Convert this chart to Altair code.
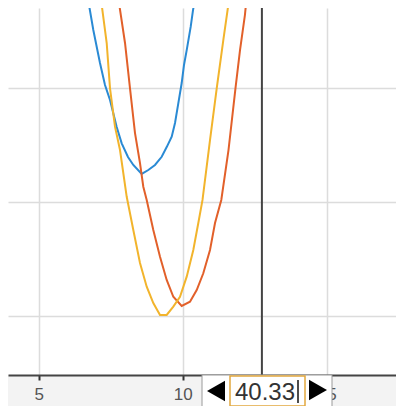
import altair as alt
import pandas as pd

# ---- data ----
blue_x = [6.694, 6.747, 6.896, 7.128, 7.302, 7.476, 7.708, 7.882, 8.10, 8.285, 8.576,
          8.806, 9.038, 9.271, 9.444, 9.618, 9.733, 9.847, 9.965, 10.045, 10.139, 10.278, 10.358, 10.46]
blue_y = [38.16, 37.28, 35.09, 32.19, 30.26, 28.95, 26.58, 25.15, 23.95, 23.25, 22.46,
          22.81, 23.25, 23.97, 24.82, 25.73, 26.93, 28.66, 30.44, 32.02, 33.33, 35.38, 36.84, 38.16]

red_x = [7.77, 7.799, 7.997, 8.170, 8.344, 8.517, 8.632, 8.750, 8.979, 9.212, 9.444, 9.674,
         9.965, 10.253, 10.486, 10.715, 10.948, 11.122, 11.34, 11.59, 11.833, 11.99, 12.16, 12.23]
red_y = [38.16, 37.28, 33.95, 29.97, 26.05, 23.42, 21.34, 20.18, 17.54, 15.20, 13.16, 11.69,
         10.88, 11.25, 12.28, 13.75, 15.79, 18.16, 20.18, 24.56, 30.0, 33.33, 36.4, 38.16]

yellow_x = [7.146, 7.188, 7.361, 7.476, 7.649, 7.823, 8.056, 8.285, 8.517, 8.750, 8.979, 9.212,
            9.444, 9.674, 9.906, 10.139, 10.368, 10.542, 10.688, 10.948, 11.181, 11.410, 11.583, 11.625]
yellow_y = [38.16, 37.28, 33.95, 29.97, 26.61, 24.56, 20.46, 17.54, 14.65, 12.57, 11.14, 10.09,
            10.09, 10.82, 11.69, 13.45, 15.79, 18.16, 20.18, 25.44, 29.97, 34.21, 37.28, 38.16]

series_names = ["blue", "red", "yellow"]
series_colors = ["#2a8ad4", "#e2602a", "#f2b42c"]

x_ticks = [5, 10, 15]
y_grid = [10, 20, 30]
x_domain = [3.934, 17.406]
y_domain = [4.825, 37.02]
cursor_x = [12.75]
widget_text = "40.33"

rows = []
for name, xs, ys in [("blue", blue_x, blue_y), ("red", red_x, red_y), ("yellow", yellow_x, yellow_y)]:
    for i, (xv, yv) in enumerate(zip(xs, ys)):
        rows.append({"series": name, "x": xv, "y": yv, "order": i})
df = pd.DataFrame(rows)

xscale = alt.Scale(domain=x_domain, nice=False, zero=False)
yscale = alt.Scale(domain=y_domain, nice=False, zero=False)

lines = alt.Chart(df).mark_line(strokeWidth=2, clip=True).encode(
    x=alt.X("x:Q", scale=xscale, title=None,
            axis=alt.Axis(values=x_ticks, grid=True, gridColor="#dcdcdc", gridWidth=1.5,
                          domainColor="#444444", domainWidth=2, tickColor="#333333",
                          tickWidth=2, tickSize=5, labelFontSize=17, labelColor="#555555",
                          labelFont="Liberation Sans", labelPadding=6, format="d")),
    y=alt.Y("y:Q", scale=yscale, title=None,
            axis=alt.Axis(values=y_grid, grid=True, gridColor="#dcdcdc", gridWidth=1.5,
                          labels=False, ticks=False, domain=False)),
    color=alt.Color("series:N", scale=alt.Scale(domain=series_names, range=series_colors), legend=None),
    order="order:Q",
    detail="series:N",
)

rule = alt.Chart(pd.DataFrame({"x": cursor_x})).mark_rule(color="#444444", strokeWidth=2).encode(
    x=alt.X("x:Q", scale=xscale)
)

one = pd.DataFrame({"a": [0]})
box_outer = alt.Chart(one).mark_rect(fill="white", stroke="#9a9a9a", strokeWidth=1).encode(
    x=alt.value(194), x2=alt.value(324), y=alt.value(367), y2=alt.value(399))
box_inner = alt.Chart(one).mark_rect(fill="white", stroke="#e2a83e", strokeWidth=1.5).encode(
    x=alt.value(222), x2=alt.value(297), y=alt.value(368), y2=alt.value(398))
txt = alt.Chart(one).mark_text(text=widget_text, fontSize=24, font="Liberation Sans",
                               color="#333333", align="left", baseline="alphabetic").encode(
    x=alt.value(227), y=alt.value(392))
caret = alt.Chart(one).mark_rule(color="#111111", strokeWidth=1.5).encode(
    x=alt.value(290), y=alt.value(372), y2=alt.value(395))
tri_left = alt.Chart(one).mark_point(shape="triangle-left", filled=True, color="black",
                                     size=430, opacity=1).encode(x=alt.value(208), y=alt.value(383))
tri_right = alt.Chart(one).mark_point(shape="triangle-right", filled=True, color="black",
                                      size=430, opacity=1).encode(x=alt.value(310), y=alt.value(382))

chart = alt.layer(lines, rule, box_outer, box_inner, txt, caret, tri_left, tri_right).properties(
    width=388, height=367,
    autosize=alt.AutoSizeParams(type="none"),
    padding={"left": 0, "top": 0, "right": 0, "bottom": 31},
    background="#f3f3f3",
).configure_view(fill="white", strokeWidth=0)

chart.save("out.html", embed_options={"renderer": "svg", "actions": False})
